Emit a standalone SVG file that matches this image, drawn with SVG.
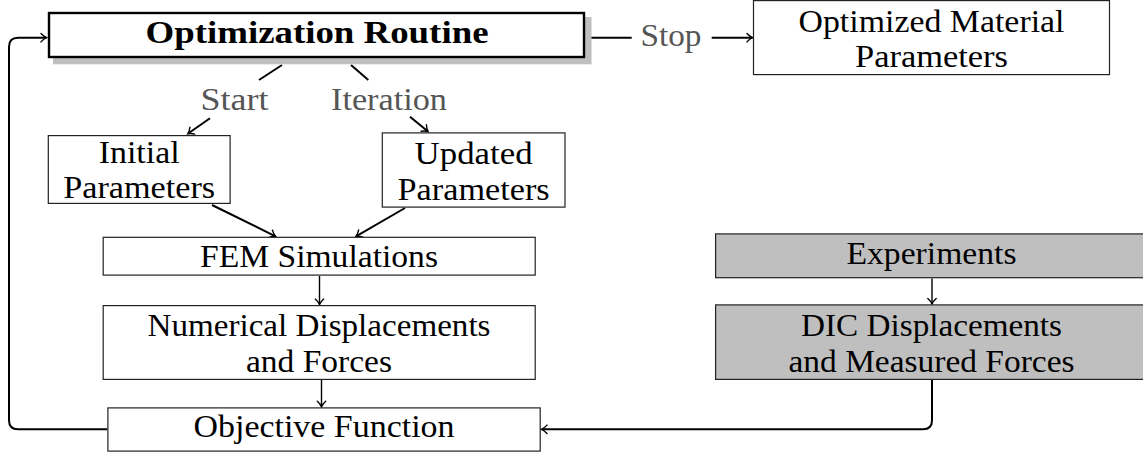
<svg xmlns="http://www.w3.org/2000/svg" width="1143" height="457" viewBox="0 0 1143 457">
  <defs>
    <marker id="to" markerUnits="userSpaceOnUse" markerWidth="14" markerHeight="14" viewBox="-8 -7 10 14" refX="0" refY="0" orient="auto">
      <path d="M -5.5 -4.2 C -3.2 -1.6 -1.2 -0.5 0 0 C -1.2 0.5 -3.2 1.6 -5.5 4.2" fill="none" stroke="#000" stroke-width="1.4" stroke-linecap="round"/>
    </marker>
    <style>
      .box { fill: #fff; stroke: #222; stroke-width: 1.2; }
      .gbox { fill: #bfbfbf; stroke: #222; stroke-width: 1.2; }
      .main { fill: #fff; stroke: #000; stroke-width: 2.4; }
      .shadow { fill: #bfbfbf; }
      text { font-family: "Liberation Serif", "Times New Roman", serif; font-size: 31px; fill: #000; text-anchor: middle; }
      .bold { font-weight: bold; }
      .lbl { fill: #555; }
      .edge { fill: none; stroke: #000; stroke-width: 2; }
      .thin { fill: none; stroke: #000; stroke-width: 1.4; }
    </style>
  </defs>

  <!-- connectors -->
  <g id="connectors">
    <!-- feedback loop from objective function back to the optimizer -->
    <path class="edge" d="M 107.3 429.3 H 18 Q 9 429.3 9 420.3 V 46.7 Q 9 37.7 18 37.7 H 46.5" marker-end="url(#to)"/>
    <!-- stop -->
    <path class="edge" d="M 586 37.7 H 631.7"/>
    <path class="edge" d="M 711.7 37.7 H 752.5" marker-end="url(#to)"/>
    <text class="lbl" x="671" y="46" textLength="61" lengthAdjust="spacingAndGlyphs">Stop</text>
    <!-- start -->
    <path class="edge" d="M 282 65 L 259 80"/>
    <path class="edge" d="M 210 118.3 L 187.8 133.8" marker-end="url(#to)"/>
    <text class="lbl" x="234.5" y="110" textLength="68" lengthAdjust="spacingAndGlyphs">Start</text>
    <!-- iteration -->
    <path class="edge" d="M 351 65 L 368.3 80"/>
    <path class="edge" d="M 410 116.7 L 428 131.5" marker-end="url(#to)"/>
    <text class="lbl" x="389" y="110" textLength="116" lengthAdjust="spacingAndGlyphs">Iteration</text>
    <!-- parameters into FEM -->
    <path class="edge" d="M 212 205 L 275.5 236.3" marker-end="url(#to)"/>
    <path class="edge" d="M 405 208 L 356 236.3" marker-end="url(#to)"/>
    <!-- FEM chain -->
    <path class="thin" d="M 319.5 276 V 304.6" marker-end="url(#to)"/>
    <path class="thin" d="M 321.5 380 V 406.8" marker-end="url(#to)"/>
    <!-- experiment chain -->
    <path class="thin" d="M 932 278.5 V 304" marker-end="url(#to)"/>
    <path class="edge" d="M 932 380 V 420.3 Q 932 429.3 923 429.3 H 541.5" marker-end="url(#to)"/>
  </g>

  <g id="optimization-routine">
    <rect class="shadow" x="53" y="17" width="538.5" height="47.3"/>
    <rect class="main" x="49" y="13" width="535" height="44"/>
    <text class="bold" x="317" y="43.3" textLength="343" lengthAdjust="spacingAndGlyphs">Optimization Routine</text>
  </g>

  <g id="optimized-material-parameters">
    <rect class="box" x="753.5" y="0.6" width="356" height="74"/>
    <text x="931.5" y="31.7" textLength="266" lengthAdjust="spacingAndGlyphs">Optimized Material</text>
    <text x="931.5" y="66.7" textLength="153" lengthAdjust="spacingAndGlyphs">Parameters</text>
  </g>

  <g id="initial-parameters">
    <rect class="box" x="48.3" y="135.6" width="181.8" height="67.8"/>
    <text x="139.2" y="162.5" textLength="81" lengthAdjust="spacingAndGlyphs">Initial</text>
    <text x="139.2" y="197.5" textLength="152" lengthAdjust="spacingAndGlyphs">Parameters</text>
  </g>

  <g id="updated-parameters">
    <rect class="box" x="382.3" y="132.9" width="182.7" height="74.2"/>
    <text x="473.6" y="164" textLength="118" lengthAdjust="spacingAndGlyphs">Updated</text>
    <text x="473.6" y="199.5" textLength="152" lengthAdjust="spacingAndGlyphs">Parameters</text>
  </g>

  <g id="fem-simulations">
    <rect class="box" x="103.2" y="237.3" width="432" height="37.8"/>
    <text x="319" y="266.8" textLength="238" lengthAdjust="spacingAndGlyphs">FEM Simulations</text>
  </g>

  <g id="numerical-displacements">
    <rect class="box" x="103.2" y="305.6" width="432" height="73.8"/>
    <text x="319" y="336" textLength="343" lengthAdjust="spacingAndGlyphs">Numerical Displacements</text>
    <text x="319" y="371.5" textLength="146" lengthAdjust="spacingAndGlyphs">and Forces</text>
  </g>

  <g id="objective-function">
    <rect class="box" x="107.9" y="407.9" width="432.3" height="43.2"/>
    <text x="324" y="437.2" textLength="261" lengthAdjust="spacingAndGlyphs">Objective Function</text>
  </g>

  <g id="experiments">
    <rect class="gbox" x="715.6" y="233.9" width="433" height="43.8"/>
    <text x="931.5" y="263.5" textLength="170" lengthAdjust="spacingAndGlyphs">Experiments</text>
  </g>

  <g id="dic-displacements">
    <rect class="gbox" x="715.6" y="304.9" width="433" height="74.5"/>
    <text x="931.5" y="336.3" textLength="261" lengthAdjust="spacingAndGlyphs">DIC Displacements</text>
    <text x="931.5" y="371.7" textLength="286" lengthAdjust="spacingAndGlyphs">and Measured Forces</text>
  </g>
</svg>
